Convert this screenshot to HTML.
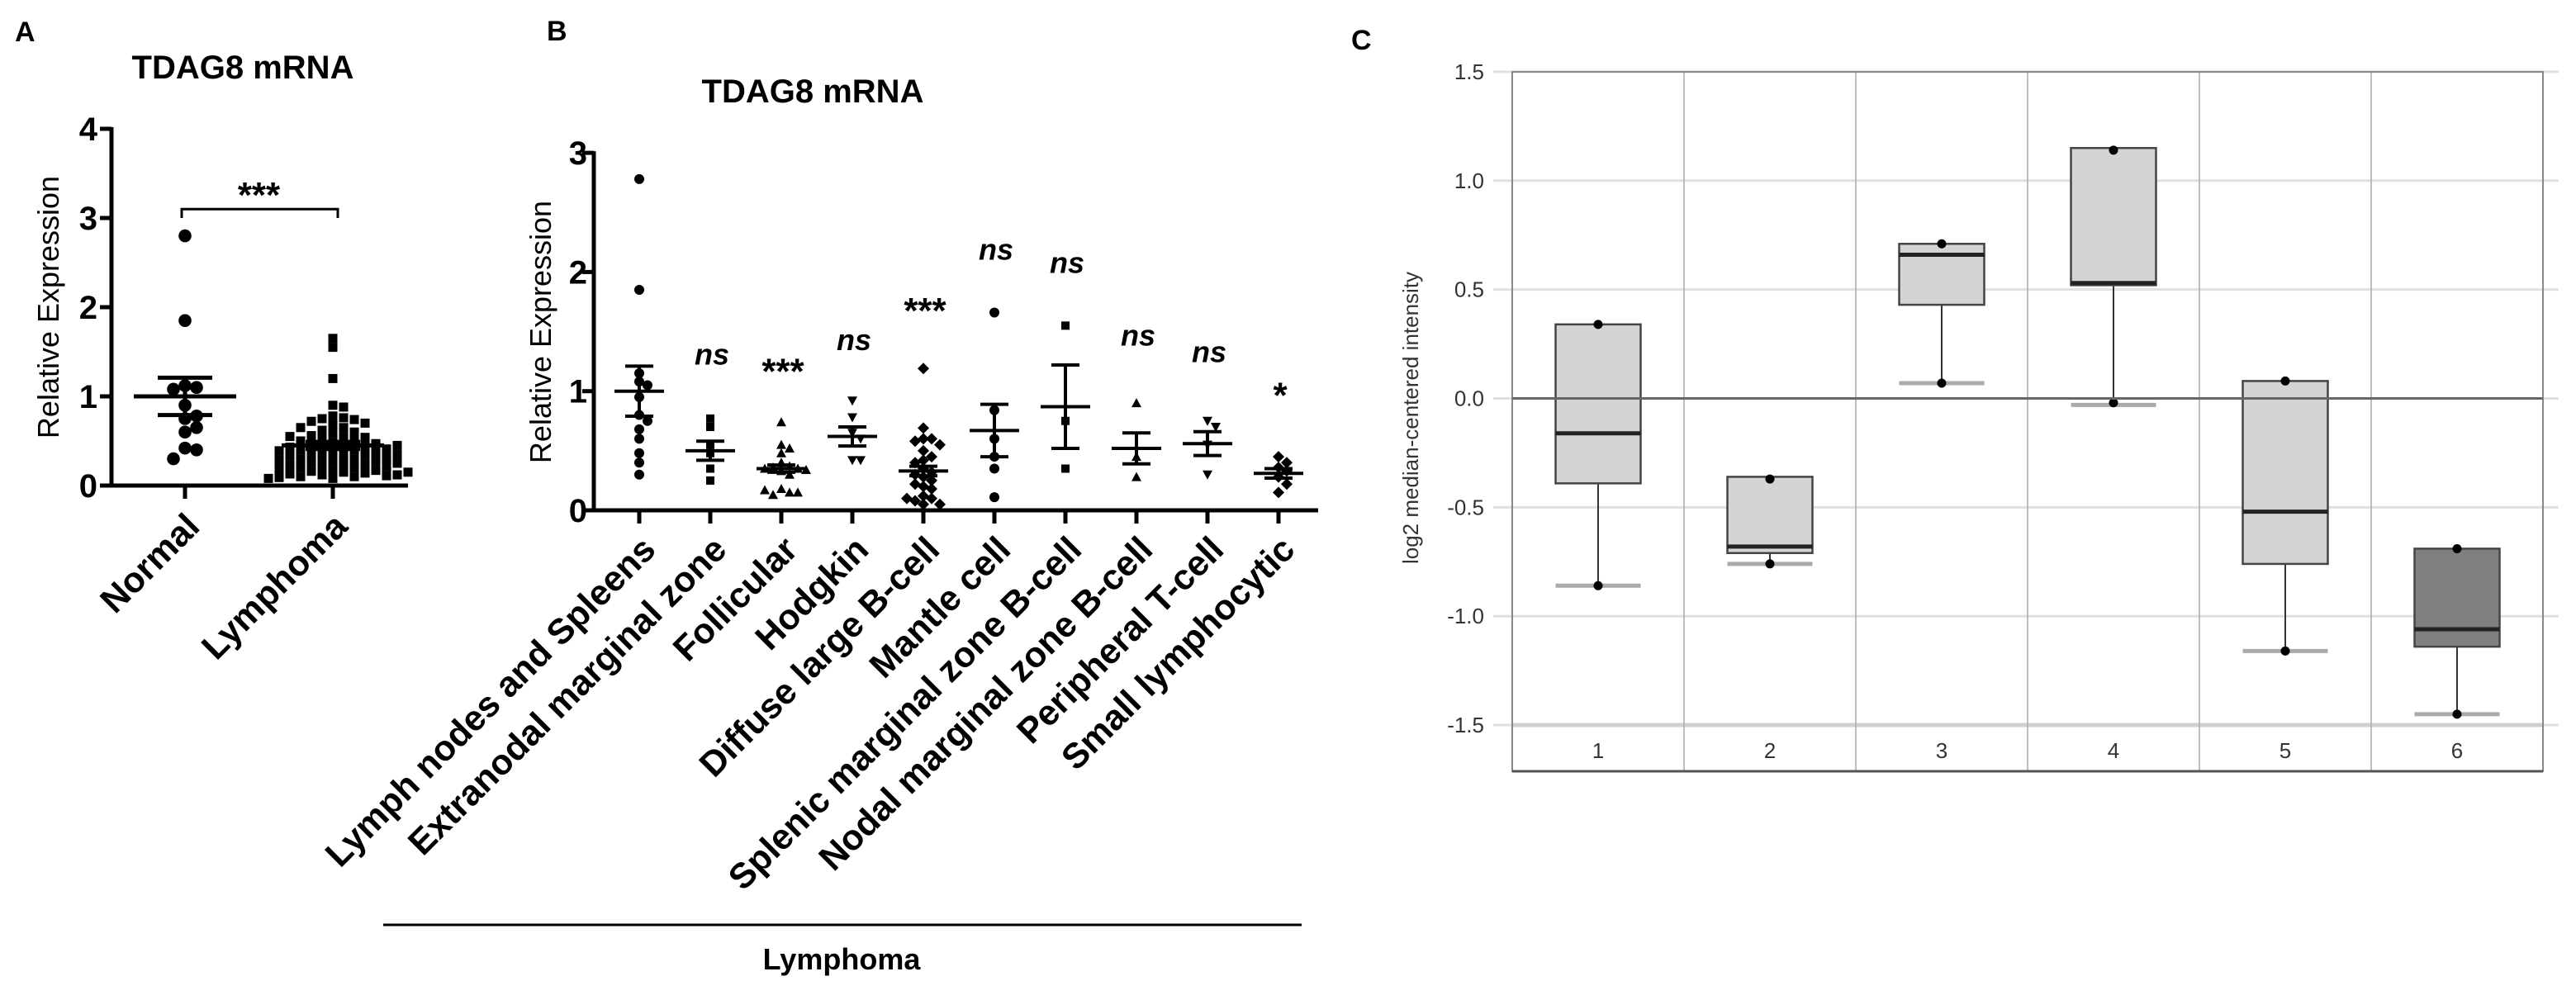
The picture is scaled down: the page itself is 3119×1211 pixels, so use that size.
<!DOCTYPE html>
<html><head><meta charset="utf-8"><style>
html,body{margin:0;padding:0;background:#fff;}
svg{display:block;font-family:"Liberation Sans",Arial,sans-serif;}
</style></head><body>
<svg id="fig" width="3119" height="1211" viewBox="0 0 3119 1211" xmlns="http://www.w3.org/2000/svg">
<g id="pa"></g>
<g id="pb"></g>
<g id="pc"></g>
</svg>
<script>
// ---------- Panel A data ----------
const aCategories = ["Normal", "Lymphoma"];
const aTicks = [0, 1, 2, 3, 4];
const aNormal = [2.8, 1.85, 1.12, 1.1, 1.08, 0.9, 0.78, 0.75, 0.65, 0.6, 0.42, 0.4, 0.3];
const aLymphoma = [1.65, 1.55, 1.2, 0.9, 0.88, 0.78, 0.76, 0.75, 0.74, 0.72, 0.7, 0.68, 0.65, 0.62, 0.6, 0.58, 0.56, 0.55, 0.54, 0.52, 0.5, 0.5, 0.48, 0.47, 0.46, 0.45, 0.44, 0.43, 0.42, 0.41, 0.4, 0.4, 0.39, 0.38, 0.37, 0.36, 0.35, 0.34, 0.33, 0.32, 0.31, 0.3, 0.3, 0.29, 0.28, 0.27, 0.26, 0.25, 0.24, 0.23, 0.22, 0.21, 0.2, 0.2, 0.19, 0.18, 0.17, 0.16, 0.15, 0.14, 0.13, 0.12, 0.12, 0.11, 0.1, 0.1, 0.09, 0.08, 0.08, 0.35, 0.45, 0.55, 0.25, 0.15, 0.65];
const aMean = [1.0, 0.45];
const aSem = [0.21, 0.04];
const aSig = "***";

// ---------- Panel B data ----------
const bCategories = ["Lymph nodes and Spleens", "Extranodal marginal zone", "Follicular", "Hodgkin", "Diffuse large B-cell", "Mantle cell", "Splenic marginal zone B-cell", "Nodal marginal zone B-cell", "Peripheral T-cell", "Small lymphocytic"];
const bTicks = [0, 1, 2, 3];
const bPoints = [
 [2.78, 1.85, 1.15, 1.08, 1.05, 0.95, 0.8, 0.75, 0.68, 0.6, 0.48, 0.4, 0.3],
 [0.77, 0.7, 0.55, 0.48, 0.35, 0.25],
 [0.74, 0.55, 0.52, 0.48, 0.4, 0.37, 0.36, 0.35, 0.35, 0.34, 0.33, 0.3, 0.18, 0.15, 0.13, 0.15, 0.17],
 [0.92, 0.78, 0.65, 0.6, 0.42, 0.42],
 [1.19, 0.69, 0.6, 0.6, 0.58, 0.55, 0.5, 0.45, 0.42, 0.4, 0.35, 0.32, 0.3, 0.28, 0.25, 0.22, 0.2, 0.18, 0.12, 0.1, 0.08, 0.05, 0.05, 0.1],
 [1.66, 0.84, 0.6, 0.45, 0.35, 0.11],
 [1.55, 0.75, 0.35],
 [0.9, 0.45, 0.28],
 [0.75, 0.7, 0.55, 0.3],
 [0.45, 0.4, 0.36, 0.33, 0.28, 0.22, 0.15]
];
const bShapes = ["circle", "square", "tri", "itri", "diamond", "circle", "square", "tri", "itri", "diamond"];
const bMean = [1.0, 0.5, 0.35, 0.62, 0.33, 0.67, 0.87, 0.52, 0.56, 0.31];
const bSem = [0.21, 0.08, 0.03, 0.08, 0.04, 0.22, 0.35, 0.13, 0.1, 0.04];
const bSig = ["", "ns", "***", "ns", "***", "ns", "ns", "ns", "ns", "*"];
const bSigY = [0, 1.32, 1.16, 1.44, 1.67, 2.2, 2.09, 1.48, 1.34, 0.96];

// ---------- Panel C data ----------
const cGroups = ["1", "2", "3", "4", "5", "6"];
const cTicks = [1.5, 1.0, 0.5, 0.0, -0.5, -1.0, -1.5];
const cQ3 = [0.34, -0.36, 0.71, 1.15, 0.08, -0.69];
const cMed = [-0.16, -0.68, 0.66, 0.53, -0.52, -1.06];
const cQ1 = [-0.39, -0.71, 0.43, 0.52, -0.76, -1.14];
const cLow = [-0.86, -0.76, 0.07, -0.03, -1.16, -1.45];
const cPtHi = [0.34, -0.37, 0.71, 1.14, 0.08, -0.69];
const cPtLo = [-0.86, -0.76, 0.07, -0.02, -1.16, -1.45];
const cDark = [false, false, false, false, false, true];

const NS = "http://www.w3.org/2000/svg";
function mk(parent, tag, attrs, text) {
  const e = document.createElementNS(NS, tag);
  for (const k in attrs) e.setAttribute(k, attrs[k]);
  if (text !== undefined) e.textContent = text;
  parent.appendChild(e);
  return e;
}
function marker(g, shape, x, y, s) {
  let e;
  if (shape === "circle") e = mk(g, "circle", {cx: x, cy: y, r: s * 0.6, fill: "#000"});
  else if (shape === "square") e = mk(g, "rect", {x: x - s / 2, y: y - s / 2, width: s, height: s, fill: "#000"});
  else if (shape === "tri") e = mk(g, "polygon", {points: `${x},${y - s * 0.6} ${x - s * 0.6},${y + s * 0.5} ${x + s * 0.6},${y + s * 0.5}`, fill: "#000"});
  else if (shape === "itri") e = mk(g, "polygon", {points: `${x},${y + s * 0.6} ${x - s * 0.6},${y - s * 0.5} ${x + s * 0.6},${y - s * 0.5}`, fill: "#000"});
  else e = mk(g, "polygon", {points: `${x},${y - s * 0.7} ${x + s * 0.7},${y} ${x},${y + s * 0.7} ${x - s * 0.7},${y}`, fill: "#000"});
  return e;
}
function swarm(vals, yFn, step, vstep) {
  const placed = [];
  return vals.map(v => {
    const y = yFn(v);
    let k = 0, off = 0;
    while (true) {
      off = (k % 2 ? 1 : -1) * Math.ceil(k / 2) * step;
      if (!placed.some(p => Math.abs(p.y - y) < vstep && Math.abs(p.o - off) < step)) break;
      k++;
    }
    placed.push({y: y, o: off});
    return off;
  });
}

// ================= Panel A =================
(function () {
  const g = document.getElementById("pa");
  const ay = v => 588 - 108 * v;
  const ax = i => 224 + i * 179;
  let t = mk(g, "text", {x: 18, y: 50, "font-size": 34, "font-weight": "bold"}, "A");
  
  
  t = mk(g, "text", {x: 294, y: 95, "font-size": 40, "font-weight": "bold", "text-anchor": "middle"}, "TDAG8 mRNA");
  
  
  t = mk(g, "text", {x: 0, y: 0, "font-size": 36, "text-anchor": "middle", transform: "translate(71,372) rotate(-90)"}, "Relative Expression");
  
  
  let l = mk(g, "line", {x1: 135, y1: ay(4) - 2, x2: 135, y2: ay(0) + 2, stroke: "#000", "stroke-width": 5});
  
  
  l = mk(g, "line", {x1: 133, y1: ay(0), x2: 494, y2: ay(0), stroke: "#000", "stroke-width": 5});
  
  
  aTicks.forEach(v => {
    const tk = mk(g, "line", {x1: 121, y1: ay(v), x2: 135, y2: ay(v), stroke: "#000", "stroke-width": 5});
    
    
    const tl = mk(g, "text", {x: 118, y: ay(v) + 14, "font-size": 40, "font-weight": "bold", "text-anchor": "end"}, String(v));
    
    
  });
  aCategories.forEach((c, i) => {
    const tk = mk(g, "line", {x1: ax(i), y1: ay(0), x2: ax(i), y2: ay(0) + 16, stroke: "#000", "stroke-width": 5});
    
    
    const tl = mk(g, "text", {x: 0, y: 0, "font-size": 43, "font-weight": "bold", "text-anchor": "end", transform: `translate(${ax(i) + 20},${ay(0) + 52}) rotate(-45)`}, c);
    
    
  });
  const series = [aNormal, aLymphoma];
  const shapes = ["circle", "square"];
  series.forEach((vals, i) => {
    const offs = i === 0 ? swarm(vals, ay, 14, 14) : swarm(vals, ay, 13, 10);
    vals.forEach((v, j) => {
      const m = marker(g, shapes[i], ax(i) + offs[j], ay(v), i === 0 ? 13 : 11);
      
      
    });
    const mean = aMean[i], sem = aSem[i];
    const ml = mk(g, "line", {x1: ax(i) - 62, y1: ay(mean), x2: ax(i) + 62, y2: ay(mean), stroke: "#000", "stroke-width": 5});
    
    
    const el = mk(g, "line", {x1: ax(i), y1: ay(mean + sem), x2: ax(i), y2: ay(mean - sem), stroke: "#000", "stroke-width": 5});
    
    
    [mean + sem, mean - sem].forEach(v => {
      const cl = mk(g, "line", {x1: ax(i) - 33, y1: ay(v), x2: ax(i) + 33, y2: ay(v), stroke: "#000", "stroke-width": 5});
      
      
    });
  });
  const br = mk(g, "polyline", {points: `${ax(0) - 4},${ay(3.0)} ${ax(0) - 4},${ay(3.1)} ${ax(1) + 6},${ay(3.1)} ${ax(1) + 6},${ay(3.0)}`, fill: "none", stroke: "#000", "stroke-width": 3});
  
  
  t = mk(g, "text", {x: (ax(0) + ax(1)) / 2, y: ay(3.1) - 2, "font-size": 44, "font-weight": "bold", "text-anchor": "middle"}, aSig);
  
  
})();

// ================= Panel B =================
(function () {
  const g = document.getElementById("pb");
  const by = v => 618 - 144.3 * v;
  const bx = i => 774 + i * 86;
  let t = mk(g, "text", {x: 662, y: 49, "font-size": 34, "font-weight": "bold"}, "B");
  
  
  t = mk(g, "text", {x: 984, y: 124, "font-size": 40, "font-weight": "bold", "text-anchor": "middle"}, "TDAG8 mRNA");
  
  
  t = mk(g, "text", {x: 0, y: 0, "font-size": 36, "text-anchor": "middle", transform: "translate(667,402) rotate(-90)"}, "Relative Expression");
  
  
  let l = mk(g, "line", {x1: 719, y1: by(3) - 2, x2: 719, y2: by(0) + 2, stroke: "#000", "stroke-width": 5});
  
  
  l = mk(g, "line", {x1: 717, y1: by(0), x2: 1596, y2: by(0), stroke: "#000", "stroke-width": 5});
  
  
  bTicks.forEach(v => {
    const tk = mk(g, "line", {x1: 705, y1: by(v), x2: 719, y2: by(v), stroke: "#000", "stroke-width": 5});
    
    
    const tl = mk(g, "text", {x: 711, y: by(v) + 14, "font-size": 40, "font-weight": "bold", "text-anchor": "end"}, String(v));
    
    
  });
  bCategories.forEach((c, i) => {
    const tk = mk(g, "line", {x1: bx(i), y1: by(0), x2: bx(i), y2: by(0) + 16, stroke: "#000", "stroke-width": 5});
    
    
    const tl = mk(g, "text", {x: 0, y: 0, "font-size": 43, "font-weight": "bold", "text-anchor": "end", transform: `translate(${bx(i) + 22},${by(0) + 50}) rotate(-45)`}, c);
    
    
    const vals = bPoints[i];
    const offs = swarm(vals, by, 10, 10);
    vals.forEach((v, j) => {
      const m = marker(g, bShapes[i], bx(i) + offs[j], by(v), 10);
      
      
    });
    const mean = bMean[i], sem = bSem[i];
    const ml = mk(g, "line", {x1: bx(i) - 30, y1: by(mean), x2: bx(i) + 30, y2: by(mean), stroke: "#000", "stroke-width": 4});
    
    
    const el = mk(g, "line", {x1: bx(i), y1: by(mean + sem), x2: bx(i), y2: by(mean - sem), stroke: "#000", "stroke-width": 4});
    
    
    [mean + sem, mean - sem].forEach(v => {
      const cl = mk(g, "line", {x1: bx(i) - 17, y1: by(v), x2: bx(i) + 17, y2: by(v), stroke: "#000", "stroke-width": 4});
      
      
    });
    if (bSig[i]) {
      const italic = bSig[i] === "ns";
      const s = mk(g, "text", {x: bx(i) + 2, y: by(bSigY[i]) + 14, "font-size": italic ? 36 : 44, "font-weight": "bold", "font-style": italic ? "italic" : "normal", "text-anchor": "middle"}, bSig[i]);
      
      
    }
  });
  l = mk(g, "line", {x1: 464, y1: 1120, x2: 1576, y2: 1120, stroke: "#000", "stroke-width": 3});
  
  
  t = mk(g, "text", {x: 1019, y: 1174, "font-size": 36, "font-weight": "bold", "text-anchor": "middle"}, "Lymphoma");
  
  
})();

// ================= Panel C =================
(function () {
  const g = document.getElementById("pc");
  const L = 1831, R = 3079, B = 934;
  const cy = v => 482.5 - 263.7 * v;
  const colW = (R - L) / 6;
  const cx = i => L + colW * (i + 0.5);
  let t = mk(g, "text", {x: 1636, y: 60, "font-size": 34, "font-weight": "bold"}, "C");
  
  
  cTicks.forEach(v => {
    const gl = mk(g, "line", {x1: 1808, y1: cy(v), x2: 3098, y2: cy(v), stroke: "#e0e0e0", "stroke-width": 3});
    
    
    const tl = mk(g, "text", {x: 1797, y: cy(v) + 9, "font-size": 26, fill: "#333", "text-anchor": "end"}, v.toFixed(1));
    
    
  });
  let l = mk(g, "line", {x1: L, y1: cy(-1.5), x2: R, y2: cy(-1.5), stroke: "#cfcfcf", "stroke-width": 5});
  
  
  for (let i = 1; i < 6; i++) {
    const d = mk(g, "line", {x1: L + colW * i, y1: cy(1.5), x2: L + colW * i, y2: B, stroke: "#aaa", "stroke-width": 1.5});
    
    
  }
  const fr = mk(g, "rect", {x: L, y: cy(1.5), width: R - L, height: B - cy(1.5), fill: "none", stroke: "#888", "stroke-width": 2});
  
  
  l = mk(g, "line", {x1: L, y1: B, x2: R, y2: B, stroke: "#555", "stroke-width": 3});
  
  
  t = mk(g, "text", {x: 0, y: 0, "font-size": 26, fill: "#333", "text-anchor": "middle", transform: "translate(1717,506) rotate(-90)"}, "log2 median-centered intensity");
  
  
  const bw = 103;
  cGroups.forEach((gname, i) => {
    const x = cx(i);
    const lab = mk(g, "text", {x: x, y: 918, "font-size": 26, fill: "#333", "text-anchor": "middle"}, gname);
    
    
    const w = mk(g, "line", {x1: x, y1: cy(cQ1[i]), x2: x, y2: cy(cLow[i]), stroke: "#333", "stroke-width": 2});
    
    
    const cap = mk(g, "line", {x1: x - bw / 2, y1: cy(cLow[i]), x2: x + bw / 2, y2: cy(cLow[i]), stroke: "#aaa", "stroke-width": 5});
    
    
    const bx = mk(g, "rect", {x: x - bw / 2, y: cy(cQ3[i]), width: bw, height: cy(cQ1[i]) - cy(cQ3[i]), fill: cDark[i] ? "#808080" : "#d4d4d4", stroke: "#444", "stroke-width": 2.5});
    
    
    const md = mk(g, "line", {x1: x - bw / 2, y1: cy(cMed[i]), x2: x + bw / 2, y2: cy(cMed[i]), stroke: "#222", "stroke-width": 5});
    
    
    [cPtHi[i], cPtLo[i]].forEach(v => {
      const p = mk(g, "circle", {cx: x, cy: cy(v), r: 5.5, fill: "#000"});
      
      
    });
  });
  l = mk(g, "line", {x1: L, y1: cy(0), x2: R, y2: cy(0), stroke: "#666", "stroke-width": 3});
  
  
})();
</script>
</body></html>
